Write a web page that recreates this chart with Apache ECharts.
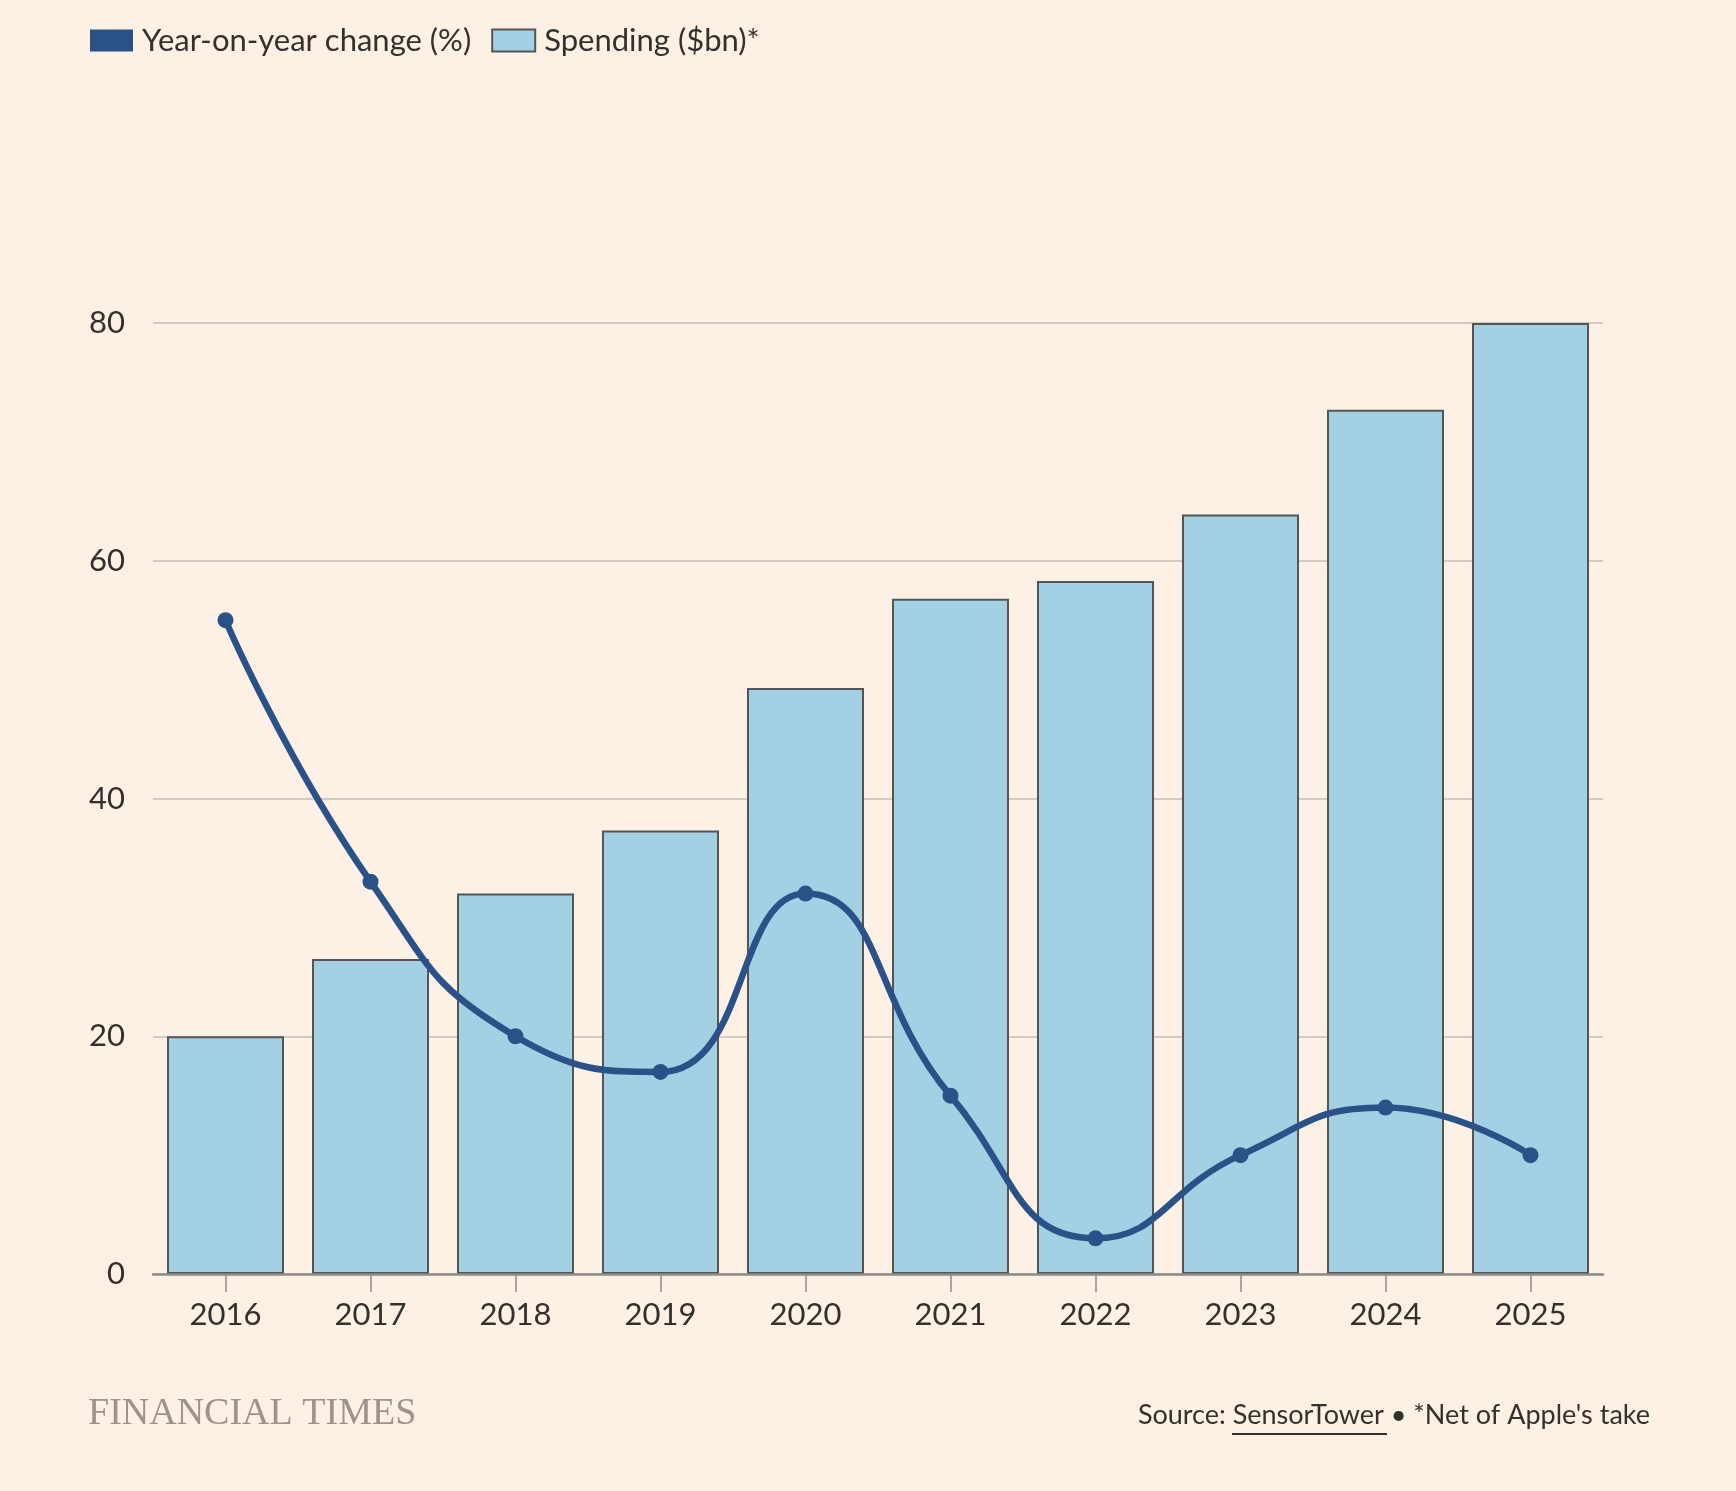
<!DOCTYPE html>
<html>
<head>
<meta charset="utf-8">
<script src="https://cdn.jsdelivr.net/npm/echarts@6/dist/echarts.min.js"></script>
<style>
html,body{margin:0;padding:0;background:#fdf1e6;}
#c{width:1736px;height:1491px;}
</style>
</head>
<body>
<div id="c"></div>
<script>
const years = ['2016','2017','2018','2019','2020','2021','2022','2023','2024','2025'];
const spending = [20.0, 26.5, 32.0, 37.3, 49.3, 56.8, 58.3, 63.9, 72.7, 80.0];
const yoyChange = [55, 33, 20, 17, 32, 15, 3, 10, 14, 10];
const yTicks = [0, 20, 40, 60, 80];

const FONT = 'Lato, "Noto Sans", sans-serif';
const TEXT = '#33302e';

const chart = echarts.init(document.getElementById('c'), null, {renderer: 'canvas'});
chart.setOption({
  backgroundColor: '#fdf1e6',
  animation: false,
  textStyle: {fontFamily: FONT},
  legend: {
    left: 90, top: 25, padding: 0,
    itemWidth: 43, itemHeight: 22, itemGap: 20,
    textStyle: {fontFamily: FONT, fontSize: 31, color: TEXT, padding: [0, 0, 0, 4]},
    data: [
      {name: 'Year-on-year change (%)', icon: 'rect', itemStyle: {color: '#2b5288', borderWidth: 0}},
      {name: 'Spending ($bn)*', icon: 'rect', itemStyle: {color: '#a4d0e4', borderColor: '#555', borderWidth: 2}}
    ]
  },
  grid: {left: 153, right: 133, top: 323, bottom: 217, containLabel: false},
  xAxis: {
    type: 'category',
    data: years,
    boundaryGap: true,
    axisLine: {show: true, lineStyle: {color: '#8f8a85', width: 2.5}},
    axisTick: {show: true, alignWithLabel: true, length: 18, lineStyle: {color: '#8f8a85', width: 1.5}},
    axisLabel: {fontFamily: FONT, fontSize: 31, color: TEXT, margin: 25},
    z: 5
  },
  yAxis: {
    type: 'value',
    min: yTicks[0], max: yTicks[yTicks.length - 1], interval: 20,
    axisLine: {show: false},
    axisTick: {show: false},
    axisLabel: {fontFamily: FONT, fontSize: 31, color: TEXT, margin: 28},
    splitLine: {lineStyle: {color: '#d3cbc1', width: 2}}
  },
  series: [
    {
      name: 'Spending ($bn)*',
      type: 'bar',
      data: spending,
      barCategoryGap: '19.3%',
      itemStyle: {color: '#a4d0e4', borderColor: '#555', borderWidth: 2},
      z: 2
    },
    {
      name: 'Year-on-year change (%)',
      type: 'line',
      data: yoyChange,
      smooth: 0.5,
      symbol: 'circle',
      symbolSize: 16,
      lineStyle: {color: '#2b5288', width: 6.5},
      itemStyle: {color: '#2b5288'},
      z: 4
    }
  ],
  graphic: [
    {
      type: 'text', left: 88, top: 1395,
      style: {text: 'FINANCIAL TIMES', font: '38px "Liberation Serif", "DejaVu Serif", serif', fill: '#9b938c'}
    },
    {
      type: 'text', right: 86, top: 1402,
      style: {
        text: "Source: {u|SensorTower} \u2022 *Net of Apple's take",
        font: '27px ' + FONT, fill: TEXT,
        rich: {u: {fontFamily: FONT, fontSize: 27, color: TEXT}}
      }
    },
    {
      type: 'line', z: 10,
      shape: {x1: 1232, y1: 1434, x2: 1387, y2: 1434},
      style: {stroke: TEXT, lineWidth: 2}
    }
  ]
});
</script>
</body>
</html>
